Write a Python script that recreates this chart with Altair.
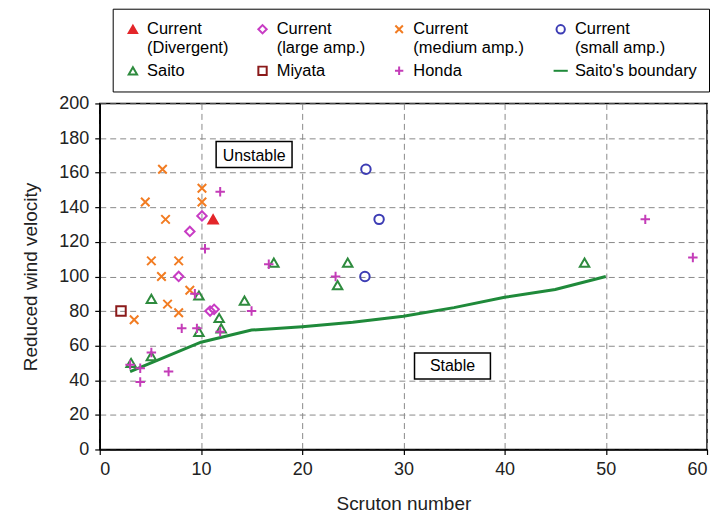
import altair as alt
import pandas as pd

# ---- data ----
series_names = ["Current (Divergent)", "Current (large amp.)", "Current (medium amp.)",
                "Current (small amp.)", "Saito", "Miyata", "Honda", "Saito's boundary"]
series_colors = ["#e3262a", "#c83cc4", "#f27c22", "#3c3cb4", "#2e8b3e", "#8b1a1a", "#c43cb8", "#1f8a3a"]
series_fills = ["#e3262a", "transparent", "transparent", "transparent", "transparent",
                "transparent", "transparent", "transparent"]
series_shapes = ["triangle-up", "diamond", "M-0.9,-0.9L0.9,0.9M-0.9,0.9L0.9,-0.9", "circle", "triangle-up",
                 "square", "M-1,0L1,0M0,-1L0,1", "M-1.7,0L1.7,0"]

div_x = [11.2]
div_y = [133]
large_x = [10.1, 8.9, 7.8, 10.9, 11.3]
large_y = [135, 126, 100, 80, 81]
medium_x = [6.2, 10.1, 4.5, 10.1, 6.5, 5.1, 7.8, 6.1, 8.9, 6.7, 7.8, 3.4]
medium_y = [162, 151, 143, 143, 133, 109, 109, 100, 92, 84, 79, 75]
small_x = [26.3, 27.6, 26.2]
small_y = [162, 133, 100]
saito_x = [5.1, 9.8, 11.8, 9.8, 12.0, 14.3, 17.2, 24.5, 23.5, 47.9, 3.1, 5.1]
saito_y = [87, 89, 76, 68, 70, 86, 108, 108, 95, 108, 50, 54]
miyata_x = [2.1]
miyata_y = [80]
honda_x = [11.9, 10.4, 16.7, 23.3, 53.9, 58.6, 9.4, 15.0, 8.1, 9.6, 11.9, 3.0, 4.0, 4.0, 5.1, 6.8]
honda_y = [149, 116, 107, 100, 133, 111, 90, 80, 70, 70, 68, 49, 47, 39, 56, 45]
boundary_x = [3, 10, 15, 20, 25, 30, 35, 40, 45, 50]
boundary_y = [45, 62, 69, 71, 73.5, 77, 82, 88, 92.5, 100]

x_ticks = [0, 10, 20, 30, 40, 50, 60]
y_ticks = [0, 20, 40, 60, 80, 100, 120, 140, 160, 180, 200]

note_text = ["Unstable", "Stable"]
note_x = [15.25, 34.85]
note_y = [169.5, 48.2]
note_x1 = [11.5, 31.1]
note_x2 = [19.0, 38.6]
note_y1 = [163.0, 40.7]
note_y2 = [178.0, 55.7]

# ---- build tables ----
rows = []
for name, xs, ys in [(series_names[0], div_x, div_y), (series_names[1], large_x, large_y),
                     (series_names[2], medium_x, medium_y), (series_names[3], small_x, small_y),
                     (series_names[4], saito_x, saito_y), (series_names[5], miyata_x, miyata_y),
                     (series_names[6], honda_x, honda_y)]:
    for a, b in zip(xs, ys):
        rows.append({"series": name, "x": a, "y": b})
pts = pd.DataFrame(rows)
line_df = pd.DataFrame({"x": boundary_x, "y": boundary_y, "series": series_names[7]})
notes = pd.DataFrame({"t": note_text, "x": note_x, "y": note_y,
                      "x1": note_x1, "x2": note_x2, "y1": note_y1, "y2": note_y2})

FONT = "Liberation Sans"
xscale = alt.Scale(domain=[0, 60], nice=False)
yscale = alt.Scale(domain=[0, 200], nice=False)
xaxis = alt.Axis(title="Scruton number", values=x_ticks, grid=True, labelOverlap=False)
yaxis = alt.Axis(title="Reduced wind velocity", values=y_ticks, grid=True, labelOverlap=False)

label_expr = ("indexof(datum.label, ' (') > 0 ? [slice(datum.label, 0, indexof(datum.label, ' (')), "
              "slice(datum.label, indexof(datum.label, ' (') + 1)] : datum.label")

legend = alt.Legend(orient="none", legendX=13, legendY=-95, columns=4, direction="horizontal",
                    title=None, strokeColor="black", fillColor="white", padding=12,
                    labelFontSize=16.5, labelFont=FONT, labelColor="black", labelLimit=300,
                    symbolSize=70, symbolStrokeWidth=2, labelExpr=label_expr,
                    columnPadding=25, rowPadding=6, labelOffset=6)

sdom = alt.Scale(domain=series_names, range=series_colors)

line = alt.Chart(line_df).mark_line(strokeWidth=3).encode(
    x=alt.X("x:Q", scale=xscale, axis=xaxis),
    y=alt.Y("y:Q", scale=yscale, axis=yaxis),
    stroke=alt.Stroke("series:N", scale=sdom, legend=legend),
)

points = alt.Chart(pts).mark_point(filled=False, size=90, strokeWidth=2, opacity=1).encode(
    x=alt.X("x:Q", scale=xscale, axis=xaxis),
    y=alt.Y("y:Q", scale=yscale, axis=yaxis),
    stroke=alt.Stroke("series:N", scale=sdom, legend=legend),
    fill=alt.Fill("series:N", scale=alt.Scale(domain=series_names, range=series_fills), legend=legend),
    shape=alt.Shape("series:N", scale=alt.Scale(domain=series_names, range=series_shapes), legend=legend),
)

boxes = alt.Chart(notes).mark_rect(fill="white", stroke="black", strokeWidth=1.5).encode(
    x=alt.X("x1:Q", scale=xscale, axis=xaxis), x2="x2:Q",
    y=alt.Y("y1:Q", scale=yscale, axis=yaxis), y2="y2:Q")
texts = alt.Chart(notes).mark_text(font=FONT, fontSize=16, color="black").encode(
    x=alt.X("x:Q", scale=xscale, axis=xaxis),
    y=alt.Y("y:Q", scale=yscale, axis=yaxis), text="t:N")

chart = alt.layer(line, points, boxes, texts).properties(
    width=609, height=347,
    autosize=alt.AutoSizeParams(type="none"),
    padding={"left": 92, "top": 95, "right": 8, "bottom": 68},
).configure_view(stroke="black", strokeWidth=1.5).configure_axis(
    labelFont=FONT, titleFont=FONT, labelFontSize=18, titleFontSize=19,
    labelColor="#222", titleColor="#222", titleFontWeight="normal",
    domainColor="black", domainWidth=1.5, tickColor="black", tickSize=5, tickWidth=1.2,
    gridColor="#8a8a8a", gridDash=[6, 4], gridWidth=1, labelPadding=6,
).configure_axisX(titlePadding=16).configure_axisY(titlePadding=18)

chart.save("out.html", embed_options={"renderer": "svg", "actions": False})
